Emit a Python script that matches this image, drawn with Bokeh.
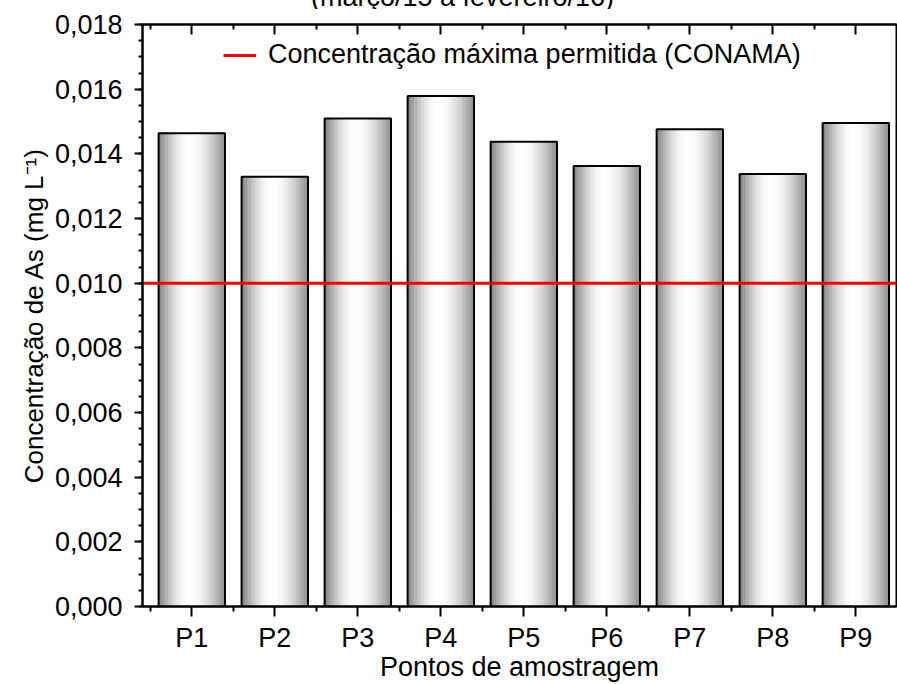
import numpy as np
from bokeh.plotting import figure
from bokeh.layouts import column
from bokeh.models import (ColumnDataSource, FixedTicker, LinearAxis, Range1d, Div,
                          CustomJSTickFormatter)
from bokeh.embed import file_html
from bokeh.resources import INLINE

# Sampling points and arsenic concentration (mg/L)
points = ["P1", "P2", "P3", "P4", "P5", "P6", "P7", "P8", "P9"]
arsenic = [0.01464, 0.01329, 0.01509, 0.01579, 0.01437, 0.01362, 0.01476, 0.01338, 0.01495]
conama_limit = 0.010
period = "(março/15 a fevereiro/16)"

y_ticks = [0.000, 0.002, 0.004, 0.006, 0.008, 0.010, 0.012, 0.014, 0.016, 0.018]
y_minor = [round(0.0005 * k, 4) for k in range(37)]

FONT = "Liberation Sans"
FS = "27px"
xs = [i + 1 for i in range(len(points))]
bar_w = 0.8
x_lo, x_hi = 0.406, 9.49

HEAD = 9  # strip above the plot holding the period line

p = figure(width=897, height=684 - HEAD, output_backend="svg", toolbar_location=None,
           x_range=Range1d(x_lo, x_hi), y_range=Range1d(0, 0.018),
           min_border_left=142, min_border_top=24 - HEAD, min_border_bottom=77,
           min_border_right=1)
p.xgrid.visible = False
p.ygrid.visible = False
p.outline_line_color = "black"
p.outline_line_width = 2
p.background_fill_color = "white"
p.border_fill_color = "white"

# Metallic gradient: each bar is built from thin vertical strips
n_strips = 48
sx, sw, st, sc = [], [], [], []
for xc, v in zip(xs, arsenic):
    for k in range(n_strips):
        t = (k + 0.5) / n_strips
        if t < 0.47:
            b = 0.49 + 0.51 * np.sin(0.5 * np.pi * t / 0.47)
        else:
            u = (t - 0.47) / 0.53
            b = 1.0 - 0.45 * (1 - np.cos(0.5 * np.pi * u))
        g = int(round(255 * min(b, 1.0)))
        sx.append(xc - bar_w / 2 + (k + 0.5) * bar_w / n_strips)
        sw.append(bar_w / n_strips)
        st.append(v)
        sc.append("#%02x%02x%02x" % (g, g, g))
strips = ColumnDataSource(dict(x=sx, w=sw, top=st, color=sc))
p.vbar(x="x", width="w", top="top", bottom=0, source=strips,
       fill_color="color", line_color="color", line_width=0.6)

bars = ColumnDataSource(dict(x=xs, top=arsenic))
p.vbar(x="x", width=bar_w, top="top", bottom=0, source=bars,
       fill_alpha=0, line_color="black", line_width=2)

# CONAMA maximum limit
p.line(x=[x_lo, x_hi], y=[conama_limit, conama_limit], line_color="red", line_width=3,
       legend_label="Concentração máxima permitida (CONAMA)")

fmt = CustomJSTickFormatter(code="return tick.toFixed(3).replace('.', ',');")

# Bottom axis
xa = p.xaxis[0]
xa.ticker = FixedTicker(ticks=xs, minor_ticks=[x - 0.5 for x in xs] + [xs[-1] + 0.5])
xa.major_label_overrides = {x: lab for x, lab in zip(xs, points)}
xa.axis_label = "Pontos de amostragem"
# Left axis
ya = p.yaxis[0]
ya.ticker = FixedTicker(ticks=y_ticks, minor_ticks=y_minor)
ya.formatter = fmt
ya.axis_label = "Concentração de As (mg L⁻¹)"

for ax in (xa, ya):
    ax.axis_line_width = 2
    ax.major_tick_line_width = 2
    ax.minor_tick_line_width = 2
    ax.major_tick_in = 0
    ax.minor_tick_in = 0
    ax.major_label_text_font = FONT
    ax.major_label_text_font_size = FS
    ax.major_label_text_color = "black"
    ax.axis_label_text_font = FONT
    ax.axis_label_text_font_size = FS
    ax.axis_label_text_font_style = "normal"
    ax.axis_label_text_color = "black"
ya.axis_label_text_font_size = "26px"
xa.major_tick_out = 10
xa.minor_tick_out = 5
xa.major_label_standoff = 6
xa.axis_label_standoff = -4
ya.major_tick_out = 8
ya.minor_tick_out = 4
ya.major_label_standoff = 12
ya.axis_label_standoff = 3

# Mirrored top axis with inward ticks
top = LinearAxis(ticker=FixedTicker(ticks=xs, minor_ticks=[x - 0.5 for x in xs] + [xs[-1] + 0.5]))
top.major_label_text_font_size = "0px"
top.major_label_text_alpha = 0
top.major_tick_out = 0
top.minor_tick_out = 0
top.major_tick_in = 10
top.minor_tick_in = 5
top.axis_line_width = 2
top.major_tick_line_width = 2
top.minor_tick_line_width = 2
top.major_label_standoff = 0
p.add_layout(top, "above")

lg = p.legend[0]
lg.location = (81, 536)
lg.background_fill_alpha = 0
lg.border_line_alpha = 0
lg.padding = 0
lg.margin = 0
lg.spacing = 0
lg.glyph_width = 33
lg.label_standoff = 12
lg.label_text_font = FONT
lg.label_text_font_size = FS
lg.label_text_color = "black"

# Period line sitting above the plot, only its lower part inside the page
head = Div(
    text=('<div style="position:relative; top:-18px; width:897px; padding-left:28px; '
          'box-sizing:border-box; text-align:center; white-space:nowrap; '
          "font-family:'Liberation Sans'; font-size:27px; line-height:31px; color:black;\">"
          + period + "</div>"),
    width=897, height=HEAD, margin=0,
    styles={"overflow": "hidden"},
)

layout = column(head, p, spacing=0)

open("out.html", "w").write(file_html(layout, INLINE))
